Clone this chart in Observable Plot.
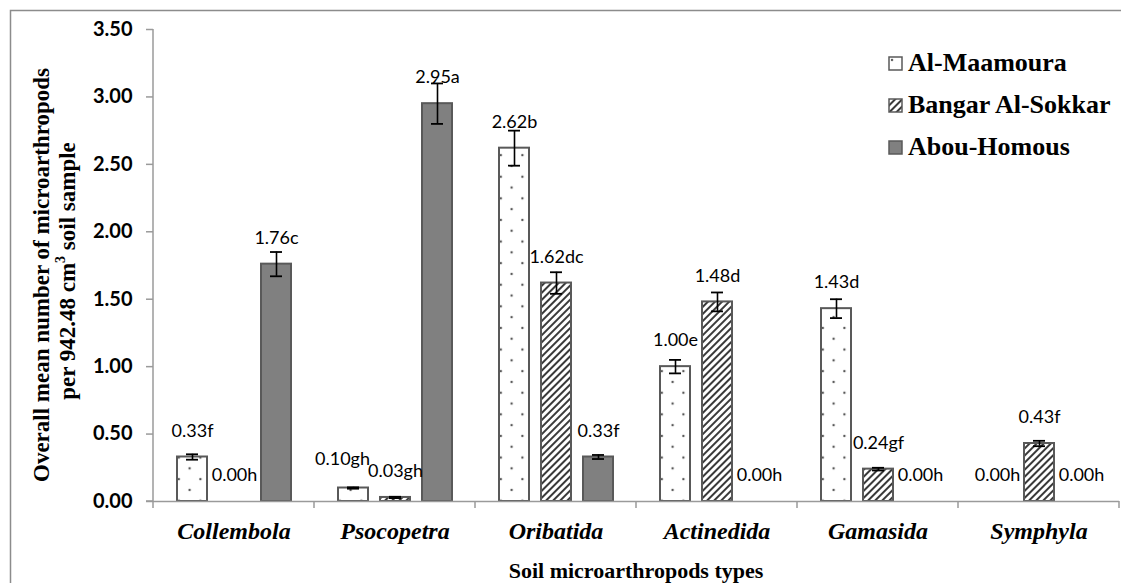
<!DOCTYPE html>
<html>
<head>
<meta charset="utf-8">
<script src="https://cdn.jsdelivr.net/npm/d3@7"></script>
<script src="https://cdn.jsdelivr.net/npm/@observablehq/plot@0.6"></script>
<style>
  html, body { margin: 0; padding: 0; background: #fff; }
  #wrap { position: relative; width: 1121px; height: 583px; overflow: hidden; }
  #legend { position: absolute; left: 888px; top: 42px; font-family: "Liberation Serif", "Times New Roman", serif; font-weight: bold; font-size: 26px; color: #000; }
  #legend .row { display: flex; align-items: center; height: 42px; white-space: nowrap; }
  #legend svg { margin-right: 5px; }
</style>
</head>
<body>
<div id="wrap"><div id="legend"></div></div>
<script>
const categories = ["Collembola", "Psocopetra", "Oribatida", "Actinedida", "Gamasida", "Symphyla"];
const sites = ["Al-Maamoura", "Bangar Al-Sokkar", "Abou-Homous"];

const maamoura = [0.33, 0.10, 2.62, 1.00, 1.43, 0.00];
const bangar   = [0.00, 0.03, 1.62, 1.48, 0.24, 0.43];
const abou     = [1.76, 2.95, 0.33, 0.00, 0.00, 0.00];

const maamouraErr = [0.02, 0.005, 0.13, 0.05, 0.07, 0];
const bangarErr   = [0, 0.005, 0.08, 0.07, 0.01, 0.02];
const abouErr     = [0.09, 0.15, 0.015, 0, 0, 0];

const maamouraLetters = ["f", "gh", "b", "e", "d", "h"];
const bangarLetters   = ["h", "gh", "dc", "d", "gf", "f"];
const abouLetters     = ["c", "a", "f", "h", "h", "h"];

const yTicks = [0, 0.5, 1, 1.5, 2, 2.5, 3, 3.5];
const yTitle1 = "Overall mean number of microarthropods";
const yTitle2a = "per 942.48 cm";
const yTitle2sup = "3";
const yTitle2b = " soil sample";
const xTitle = "Soil microarthropods types";

const fills = ["url(#dots)", "url(#hatch)", "#808080"];

const series = [maamoura, bangar, abou];
const errs = [maamouraErr, bangarErr, abouErr];
const letters = [maamouraLetters, bangarLetters, abouLetters];

const data = categories.flatMap((c, i) => sites.map((s, j) => ({
  category: c, site: s, value: series[j][i], err: errs[j][i],
  label: series[j][i].toFixed(2) + letters[j][i]
})));
const errData = data.filter(d => d.err > 0);
// one crowded label is nudged aside, as in the original
const isNudged = d => d.category === "Psocopetra" && d.site === "Al-Maamoura";

const W = 1121, H = 583;
const labelStyle = { fontFamily: "Lato, sans-serif", fontSize: 18, fill: "#000" };
const plot = Plot.plot({
  width: W, height: H,
  marginLeft: 151, marginRight: 0, marginTop: 29, marginBottom: 82,
  style: { background: "transparent", overflow: "visible" },
  fx: { domain: categories, padding: 0, label: null },
  x: { domain: sites, paddingInner: 0.29, paddingOuter: 0.55, axis: null },
  y: { domain: [0, 3.5], label: null },
  color: { domain: sites, range: fills },
  marks: [
    Plot.axisY({ ticks: yTicks, tickFormat: d3.format(".2f"), tickSize: 7, tickPadding: 14,
      stroke: "#9a9a9a", strokeWidth: 1.5, fontFamily: "Lato, sans-serif", fontWeight: "bold", fontSize: 20, fill: "#000", label: null }),
    Plot.axisFx({ anchor: "bottom", tickSize: 0, tickPadding: 20, label: null,
      fontFamily: "Liberation Serif, serif", fontStyle: "italic", fontWeight: "bold", fontSize: 24, fill: "#000" }),
    Plot.barY(data, { fx: "category", x: "site", y: "value", fill: "site", stroke: "#595959", strokeWidth: 2 }),
    Plot.ruleY([0], { stroke: "#9a9a9a", strokeWidth: 1.5 }),
    Plot.ruleX(errData, { fx: "category", x: "site", y1: d => d.value - d.err, y2: d => d.value + d.err, stroke: "#000", strokeWidth: 1.6 }),
    Plot.tickY(errData, { fx: "category", x: "site", y: d => d.value + d.err, stroke: "#000", strokeWidth: 1.8, inset: 9 }),
    Plot.tickY(errData, { fx: "category", x: "site", y: d => d.value - d.err, stroke: "#000", strokeWidth: 1.8, inset: 9 }),
    Plot.text(data.filter(d => !isNudged(d)), { fx: "category", x: "site", y: "value", text: "label", dy: -26, ...labelStyle }),
    Plot.text(data.filter(isNudged), { fx: "category", x: "site", y: "value", text: "label", dy: -29, dx: -11, ...labelStyle })
  ]
});

const svg = d3.select(plot);
const defs = svg.insert("defs", ":first-child");
const dots = defs.append("pattern").attr("id", "dots").attr("patternUnits", "userSpaceOnUse")
  .attr("width", 21.6).attr("height", 21.6);
dots.append("rect").attr("width", 21.6).attr("height", 21.6).attr("fill", "#fff");
dots.append("circle").attr("cx", 4).attr("cy", 4).attr("r", 1.2).attr("fill", "#555");
dots.append("circle").attr("cx", 14.8).attr("cy", 14.8).attr("r", 1.2).attr("fill", "#555");
const hatch = defs.append("pattern").attr("id", "hatch").attr("patternUnits", "userSpaceOnUse")
  .attr("width", 5).attr("height", 5).attr("patternTransform", "rotate(45)");
hatch.append("rect").attr("width", 5).attr("height", 5).attr("fill", "#fff");
hatch.append("rect").attr("width", 2).attr("height", 5).attr("fill", "#3a3a3a");

const fx = plot.scale("fx"), y = plot.scale("y");
const y0 = y.apply(0), yTop = y.apply(3.5);
const x0 = fx.apply(categories[0]);
const g = svg.append("g");
g.append("rect").attr("x", 10.5).attr("y", 10.5).attr("width", W + 50).attr("height", H + 50)
  .attr("fill", "none").attr("stroke", "#8c8c8c").attr("stroke-width", 1.5);
g.append("line").attr("x1", x0).attr("x2", x0).attr("y1", yTop).attr("y2", y0)
  .attr("stroke", "#9a9a9a").attr("stroke-width", 1.5);
g.append("line").attr("x1", x0 - 7).attr("x2", x0).attr("y1", y0).attr("y2", y0)
  .attr("stroke", "#9a9a9a").attr("stroke-width", 1.5);
const bounds = categories.map(c => fx.apply(c)).concat([fx.apply(categories[categories.length - 1]) + fx.bandwidth]);
bounds.forEach(b => g.append("line").attr("x1", b).attr("x2", b).attr("y1", y0).attr("y2", y0 + 7)
  .attr("stroke", "#9a9a9a").attr("stroke-width", 1.5));
const xMid = (fx.apply(categories[0]) + bounds[bounds.length - 1]) / 2;
g.append("text").attr("x", xMid).attr("y", 573).attr("text-anchor", "middle").attr("dominant-baseline", "middle")
  .style("font-family", "Liberation Serif, serif").style("font-weight", "bold").style("font-size", "22px").text(xTitle);
const yMid = (y0 + yTop) / 2;
g.append("text").attr("transform", `translate(44,${yMid + 10}) rotate(-90)`).attr("text-anchor", "middle")
  .attr("dominant-baseline", "middle")
  .style("font-family", "Liberation Serif, serif").style("font-weight", "bold").style("font-size", "23px").text(yTitle1);
const t2 = g.append("text").attr("transform", `translate(70,${yMid + 6}) rotate(-90)`).attr("text-anchor", "middle")
  .attr("dominant-baseline", "middle")
  .style("font-family", "Liberation Serif, serif").style("font-weight", "bold").style("font-size", "23px");
t2.append("tspan").text(yTitle2a);
t2.append("tspan").attr("dy", -8).style("font-size", "14px").text(yTitle2sup);
t2.append("tspan").attr("dy", 8).text(yTitle2b);

const wrap = document.getElementById("wrap");
plot.style.position = "absolute"; plot.style.left = "0"; plot.style.top = "0";
wrap.insertBefore(plot, wrap.firstChild);

const legend = d3.select("#legend");
sites.forEach((s, j) => {
  const row = legend.append("div").attr("class", "row");
  const sw = row.append("svg").attr("width", 15).attr("height", 15);
  sw.append("rect").attr("x", 1).attr("y", 1).attr("width", 13).attr("height", 13)
    .attr("fill", fills[j]).attr("stroke", "#595959").attr("stroke-width", 1.5);
  row.append("span").text(s);
});
</script>
</body>
</html>
